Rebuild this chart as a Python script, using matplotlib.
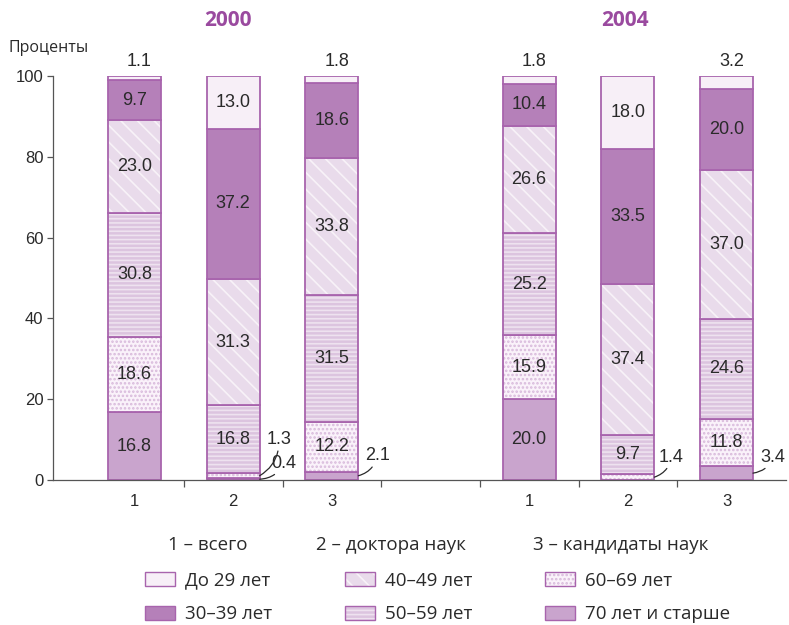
import matplotlib.pyplot as plt
import matplotlib.patches as mpatches

plt.rcParams['font.family'] = ['Liberation Sans', 'DejaVu Sans']
plt.rcParams['hatch.linewidth'] = 1.2

# годы и номера столбиков
years = ['2000', '2004']
bar_names = ['1', '2', '3', '1', '2', '3']
kind_names = ['1 – всего', '2 – доктора наук', '3 – кандидаты наук']
age_names = ['До 29 лет', '30–39 лет', '40–49 лет', '50–59 лет', '60–69 лет', '70 лет и старше']

# доли по возрастам, проценты (снизу вверх)
age70 = [16.8, 0.4, 2.1, 20.0, 0.0, 3.4]
age60 = [18.6, 1.3, 12.2, 15.9, 1.4, 11.8]
age50 = [30.8, 16.8, 31.5, 25.2, 9.7, 24.6]
age40 = [23.0, 31.3, 33.8, 26.6, 37.4, 37.0]
age30 = [9.7, 37.2, 18.6, 10.4, 33.5, 20.0]
age29 = [1.1, 13.0, 1.8, 1.8, 18.0, 3.2]

xpos = [0, 1, 2, 4, 5, 6]
edge = '#a864ad'
txt = '#2a2a2a'

# стиль сегмента: заливка, штриховка, цвет штриховки
styles = {
    '70': ('#c9a4cd', '', '#c9a4cd'),
    '60': ('#faf2fa', '....', '#d8b9db'),
    '50': ('#dcc4df', '----', '#eee2ef'),
    '40': ('#e9dbeb', '\\\\', '#f8f2f8'),
    '30': ('#b580b9', '', '#b580b9'),
    '29': ('#f7eff7', '', '#f7eff7'),
}
series = [('70', age70), ('60', age60), ('50', age50), ('40', age40), ('30', age30), ('29', age29)]

# подписи маленьких значений сбоку (смещение текста в пикселях)
side = {(1, '70'): (24, 16), (1, '60'): (19, 36), (2, '70'): (19, 20),
        (4, '60'): (17, 20), (5, '70'): (20, 16)}

fig = plt.figure(figsize=(7.89, 6.25), dpi=100)
ax = fig.add_axes([53/789, 1-480/625, 733/789, 404/625])
w = 0.537

bottom = [0.0]*6
for key, vals in series:
    face, hatch, hcol = styles[key]
    ax.bar(xpos, vals, w, bottom=bottom, color=face, edgecolor=hcol, hatch=hatch, linewidth=0)
    ax.bar(xpos, vals, w, bottom=bottom, fill=False, edgecolor=edge, linewidth=1.3)
    for i, v in enumerate(vals):
        if v == 0:
            continue
        mid = bottom[i] + v/2
        if v >= 5:
            ax.text(xpos[i], mid, f'{v:.1f}', ha='center', va='center', fontsize=13, color=txt)
        elif key == '29':
            ax.text(xpos[i] + 0.05, 103.5, f'{v:.1f}', ha='center', va='center', fontsize=13,
                    color=txt, clip_on=False)
        else:
            ax.annotate(f'{v:.1f}', (xpos[i] + w/2, mid), xytext=side[(i, key)],
                        textcoords='offset pixels', ha='center', va='center', fontsize=13,
                        color=txt, annotation_clip=False,
                        arrowprops=dict(arrowstyle='-', color=txt, lw=0.9,
                                        connectionstyle='arc3,rad=-0.3', shrinkA=0, shrinkB=0))
    bottom = [b + v for b, v in zip(bottom, vals)]

ax.set_xlim(-0.826, 6.603)
ax.set_ylim(0, 100)
ax.spines['top'].set_visible(False)
ax.spines['right'].set_visible(False)
for s in ['left', 'bottom']:
    ax.spines[s].set_color('#555555')
    ax.spines[s].set_linewidth(0.9)
ax.set_yticks([0, 20, 40, 60, 80, 100])
ax.tick_params(axis='y', length=4, width=0.9, color='#555555', labelsize=12, labelcolor=txt, pad=3)
ax.set_xticks(xpos)
ax.set_xticklabels(bar_names)
ax.set_xticks([0.5, 1.5, 2.5, 3.5, 4.5, 5.5], minor=True)
ax.tick_params(axis='x', which='major', length=0, labelsize=12, labelcolor=txt, pad=10)
ax.tick_params(axis='x', which='minor', length=5, width=0.9, color='#555555')

# заголовки годов и подпись оси
fig.text(8/789, 1-48/625, 'Проценты', fontsize=11.5, color=txt, va='center', family='Open Sans')
for j, yr in enumerate(years):
    fig.text((228 + j*397)/789, 1-20/625, yr, fontsize=15, fontweight='bold',
             color='#9a4a9f', ha='center', va='center', family='Open Sans')

# расшифровка номеров
for xc, t in zip([208, 391, 621], kind_names):
    fig.text(xc/789, 1-545/625, t, fontsize=13.5, color=txt, ha='center', va='center',
             family='Open Sans')

# легенда в три колонки
order = ['29', '30', '40', '50', '60', '70']
handles = []
for key in order:
    face, hatch, hcol = styles[key]
    handles.append((mpatches.Patch(facecolor=face, edgecolor=hcol, hatch=hatch, linewidth=0),
                    mpatches.Patch(facecolor='none', edgecolor=edge, linewidth=1.0)))
for c, x0 in enumerate([145, 345, 545]):
    fig.legend(handles[2*c:2*c+2], age_names[2*c:2*c+2], loc='upper left',
               bbox_to_anchor=(x0/789, 1-571.5/625), frameon=False, borderpad=0,
               borderaxespad=0, handlelength=1.6, handleheight=0.8, handletextpad=0.53,
               labelspacing=0.85, prop={'family': 'Open Sans', 'size': 13.5},
               labelcolor=txt)

fig.savefig('out.png', dpi=100)
